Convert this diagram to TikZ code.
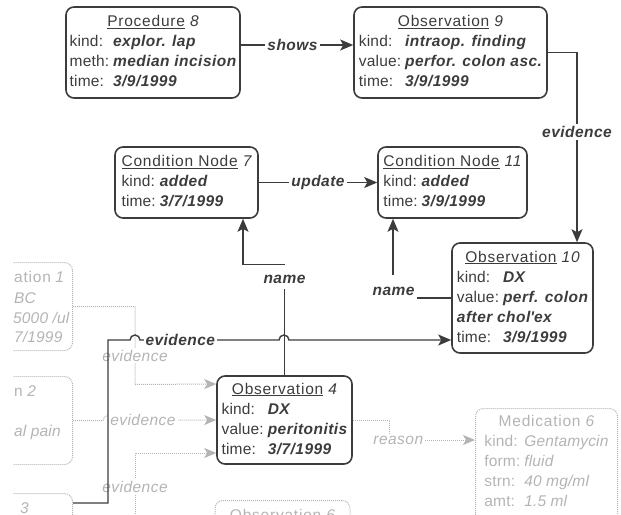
\documentclass[tikz,border=0pt]{standalone}
\usepackage{fontspec}
\setmainfont{Liberation Sans}[LetterSpace=1]
\newfontfamily\valfont{Liberation Sans}[LetterSpace=3]
\newfontfamily\ttlfont{Liberation Sans}[LetterSpace=5]
\usetikzlibrary{arrows.meta}
\definecolor{ink}{HTML}{3C3C3C}
\definecolor{fade}{HTML}{B4B4B4}
\newcommand{\val}[1]{{\valfont\bfseries\itshape #1}}
\newcommand{\ttl}[2]{{\ttlfont\underline{#1}~\itshape #2}}
\newcommand{\fttl}[2]{{\ttlfont #1~\itshape #2}}
\tikzset{
  obox/.style={draw=ink, line width=1.6pt, rounded corners=8pt, text=ink, inner sep=0pt,
    font=\fontsize{15.5}{20}\selectfont},
  fbox/.style={draw=fade, line width=1pt, dash pattern=on 1pt off 1pt, rounded corners=8pt,
    text=fade, inner sep=0pt, font=\fontsize{15.5}{20}\selectfont},
  ftxt/.style={text=fade, inner sep=0pt, font=\fontsize{15.5}{20}\selectfont},
  link/.style={draw=ink, line width=1.4pt, -{Stealth[length=13pt,width=11pt,inset=3pt]}},
  flink/.style={draw=fade, line width=1pt, dash pattern=on 1pt off 1pt,
    -{Stealth[length=12pt,width=10pt,inset=3pt,fill=fade]}},
  lbl/.style={fill=white, text=ink, inner sep=2pt, font=\valfont\bfseries\itshape\fontsize{15.5}{20}\selectfont},
  flbl/.style={fill=white, text=fade, inner sep=2pt, font=\valfont\itshape\fontsize{15.5}{20}\selectfont},
}
\begin{document}
\begin{tikzpicture}[x=1pt,y=-1pt]
  \clip (0,0) rectangle (621,514);
  % faded part, cut at the left
  \begin{scope}
    \clip (13,0) rectangle (621,514);
    \node[fbox, minimum width=150pt, minimum height=88pt, anchor=north east] (ob1) at (73,262) {};
    \node[fbox, minimum width=150pt, minimum height=88pt, anchor=north east] (ob2) at (73,376) {};
    \node[fbox, minimum width=150pt, minimum height=88pt, anchor=north east] (ob3) at (73,493) {};
    \node[ftxt, anchor=base west] (ob1a) at (14,282) {{\ttlfont ation}~\textit{1}};
    \node[ftxt, anchor=base west] (ob1b) at (14,303) {\textit{BC}};
    \node[ftxt, anchor=base west] (ob1c) at (13,323) {\textit{5000 /ul}};
    \node[ftxt, anchor=base west] (ob1d) at (14,342) {\textit{7/1999}};
    \node[ftxt, anchor=base west] (ob2a) at (14,396) {{\ttlfont n}~\textit{2}};
    \node[ftxt, anchor=base west] (ob2b) at (14,436) {\textit{al pain}};
    \node[ftxt, anchor=base west] (ob3a) at (20,513) {\textit{3}};
  \end{scope}
  \node[fbox, minimum width=135pt, anchor=north, inner ysep=9pt] (o6) at (282.5,500)
    {\fttl{Observation}{6}\rule[-30pt]{0pt}{0pt}};
  \node[fbox, minimum width=142pt, anchor=north west, inner ysep=4pt] (m6) at (475,408)
    {\begin{tabular}{@{}l@{\hspace{4pt}}l@{}}
      \multicolumn{2}{@{}c@{}}{\fttl{Medication}{6}}\\
      kind: & \textit{Gentamycin}\\
      form: & \textit{fluid}\\
      strn: & \textit{40 mg/ml}\\
      amt: & \textit{1.5 ml}\rule[-30pt]{0pt}{0pt}
    \end{tabular}};
  % main boxes
  \node[obox, minimum width=174pt, minimum height=91pt] (p8) at (153,52.5)
    {\begin{tabular}{@{}l@{\hspace{4pt}}l@{}}
      \multicolumn{2}{@{}c@{}}{\ttl{Procedure}{8}}\\
      kind: & \val{explor. lap}\\
      meth: & \val{median incision}\\
      time: & \val{3/9/1999}
    \end{tabular}};
  \node[obox, minimum width=193pt, minimum height=91pt] (o9) at (450.5,52.5)
    {\begin{tabular}{@{}l@{\hspace{4pt}}l@{}}
      \multicolumn{2}{@{}c@{}}{\ttl{Observation}{9}}\\
      kind: & \val{intraop. finding}\\
      value: & \val{perfor. colon asc.}\\
      time: & \val{3/9/1999}
    \end{tabular}};
  \node[obox, minimum width=143pt, minimum height=71pt] (c7) at (186.5,182.5)
    {\begin{tabular}{@{}l@{\hspace{4pt}}l@{}}
      \multicolumn{2}{@{}l@{}}{\ttl{Condition Node}{7}}\\
      kind: & \val{added}\\
      time: & \val{3/7/1999}
    \end{tabular}};
  \node[obox, minimum width=149pt, minimum height=71pt] (c11) at (452.5,182.5)
    {\begin{tabular}{@{}l@{\hspace{4pt}}l@{}}
      \multicolumn{2}{@{}l@{}}{\ttl{Condition Node}{11}}\\
      kind: & \val{added}\\
      time: & \val{3/9/1999}
    \end{tabular}};
  \node[obox, minimum width=141pt, minimum height=110pt] (o10) at (522.5,298)
    {\begin{tabular}{@{}l@{\hspace{4pt}}l@{}}
      \multicolumn{2}{@{}c@{}}{\ttl{Observation}{10}}\\
      kind: & \val{DX}\\
      value: & \val{perf. colon}\\
      \multicolumn{2}{@{}l@{}}{\val{after chol\textquotesingle ex}}\\
      time: & \val{3/9/1999}
    \end{tabular}};
  \node[obox, minimum width=135pt, minimum height=88pt] (o4) at (284.5,420)
    {\begin{tabular}{@{}l@{\hspace{4pt}}l@{}}
      \multicolumn{2}{@{}c@{}}{\ttl{Observation}{4}}\\
      kind: & \val{DX}\\
      value: & \val{peritonitis}\\
      time: & \val{3/7/1999}
    \end{tabular}};
  % faded links
  \coordinate (f3s) at (135,530);
  \draw[flink] (ob1.east) -- ++(62,0) -- node[flbl,pos=0.63]{evidence} ++(0,78) -- ([yshift=36pt]o4.west);
  \draw[flink] (ob2.east) -- ++(30,0) arc[start angle=180,end angle=0,radius=5pt]
    -- node[flbl,pos=0.29]{evidence} (o4.west);
  \draw[flink] (f3s) |- node[flbl,pos=0.28]{evidence} ([yshift=-33pt]o4.west);
  \draw[flink] (o4.east) -- ++(37,0) |- node[flbl,pos=0.55]{reason} ([yshift=-32pt]m6.north west);
  % links
  \coordinate (n2) at ([xshift=-59.5pt]c11.south);
  \draw[link] ([yshift=7.5pt]p8.east) -- node[lbl,pos=0.46]{shows} ([yshift=7.5pt]o9.west);
  \draw[link] (o9.east) -| node[lbl,pos=0.71]{evidence} ([xshift=54.5pt]o10.north);
  \draw[link] (c7.east) -- node[lbl]{update} (c11.west);
  \draw[link] (o4.north) -- ++(0,-86) node[lbl, fill=none, above=3pt]{name}
    ++(0,-25) -| ([xshift=56.5pt]c7.south);
  \draw[link] (o10.west) -- ++(-34,0) node[lbl, fill=none, anchor=south east]{name}
    (n2 |- 0,275) -- (n2);
  \draw[link] ([yshift=-10pt]ob3.north east) -- ++(35,0) -- ++(0,-163) -- ++(22,0)
    arc[start angle=180,end angle=0,radius=5pt] -- node[lbl,pos=0.29]{evidence} ++(139,0)
    arc[start angle=180,end angle=0,radius=5pt] -- ([yshift=-42pt]o10.west);
\end{tikzpicture}
\end{document}
